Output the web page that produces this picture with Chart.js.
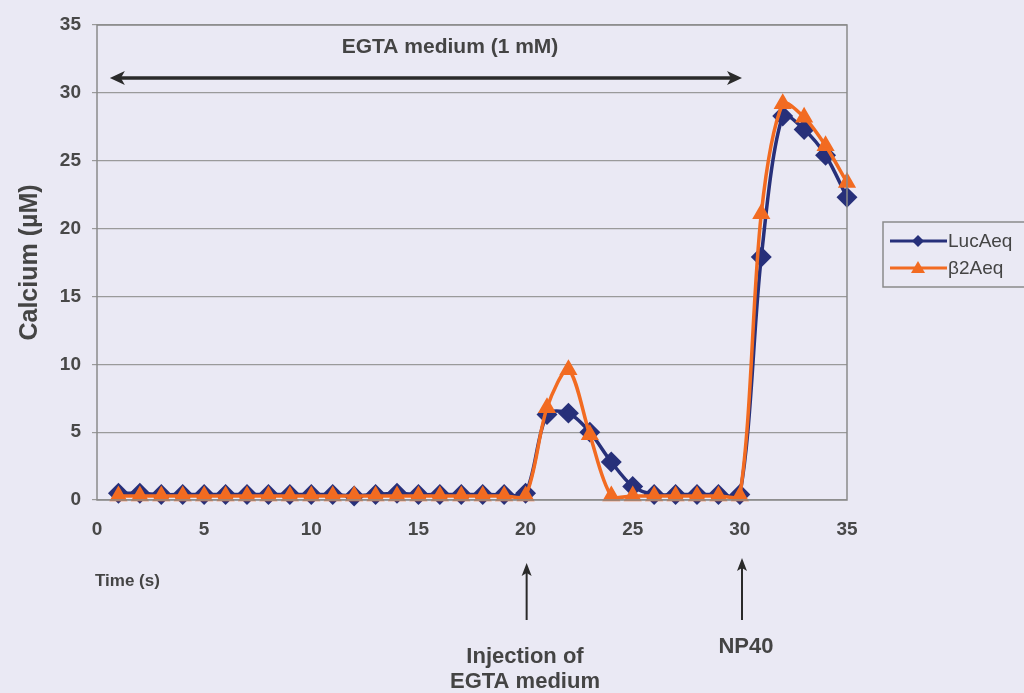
<!DOCTYPE html>
<html>
<head>
<meta charset="utf-8">
<script src="https://cdn.jsdelivr.net/npm/chart.js@4.4.0/dist/chart.umd.min.js"></script>
<style>
  html, body { margin: 0; padding: 0; background: #eae9f4; }
  #wrap { width: 1024px; height: 693px; position: relative; }
</style>
</head>
<body>
<div id="wrap"><canvas id="c"></canvas></div>
<script>
// time points (s)
const time = [1,2,3,4,5,6,7,8,9,10,11,12,13,14,15,16,17,18,19,20,21,22,23,24,25,26,27,28,29,30,31,32,33,34,35];
// calcium (µM)
const lucAeq = [0.5,0.5,0.4,0.4,0.4,0.4,0.4,0.4,0.4,0.4,0.4,0.3,0.4,0.5,0.4,0.4,0.4,0.4,0.4,0.5,
                6.3,6.4,5.0,2.8,1.0,0.4,0.4,0.4,0.4,0.4,17.9,28.3,27.3,25.4,22.3];
const b2Aeq = [0.3,0.3,0.3,0.3,0.3,0.3,0.3,0.3,0.3,0.3,0.3,0.3,0.3,0.3,0.3,0.3,0.3,0.3,0.3,0.3,
               6.8,9.6,4.8,0.3,0.3,0.3,0.3,0.3,0.3,0.3,21.1,29.2,28.2,26.1,23.4];
const yTicks = [0,5,10,15,20,25,30,35];
const xTicks = [0,5,10,15,20,25,30,35];

const BLUE = '#27307a';
const ORANGE = '#f26b21';
const GREY = '#484848';
const FONT = '"Liberation Sans", Arial, sans-serif';

const pts = arr => arr.map((v, i) => ({ x: time[i], y: v }));

// frame, arrows, annotation text and legend
const extras = {
  id: 'extras',
  afterDraw(chart) {
    const { ctx, chartArea: a, scales: { x, y } } = chart;
    ctx.save();
    ctx.strokeStyle = '#8a8a8a';
    ctx.lineWidth = 1.5;
    ctx.strokeRect(a.left, a.top, a.right - a.left, a.bottom - a.top);

    const arrowHead = (px, py, dir) => {
      ctx.beginPath();
      if (dir === 'left' || dir === 'right') {
        const s = dir === 'left' ? 1 : -1;
        ctx.moveTo(px, py);
        ctx.lineTo(px + s * 15, py - 7);
        ctx.lineTo(px + s * 11, py);
        ctx.lineTo(px + s * 15, py + 7);
      } else {
        ctx.moveTo(px, py);
        ctx.lineTo(px - 5, py + 13);
        ctx.lineTo(px, py + 10);
        ctx.lineTo(px + 5, py + 13);
      }
      ctx.closePath();
      ctx.fill();
    };

    // EGTA medium span
    ctx.strokeStyle = '#2a2a2a';
    ctx.fillStyle = '#2a2a2a';
    ctx.lineWidth = 3.5;
    const ay = y.getPixelForValue(31.1);
    const ax0 = x.getPixelForValue(0.6), ax1 = x.getPixelForValue(30.1);
    ctx.beginPath();
    ctx.moveTo(ax0 + 8, ay);
    ctx.lineTo(ax1 - 8, ay);
    ctx.stroke();
    arrowHead(ax0, ay, 'left');
    arrowHead(ax1, ay, 'right');

    // event arrows below the axis
    ctx.lineWidth = 2;
    [[20.05, 563], [30.1, 558]].forEach(([t, top]) => {
      const px = x.getPixelForValue(t);
      ctx.beginPath();
      ctx.moveTo(px, top + 8);
      ctx.lineTo(px, 620);
      ctx.stroke();
      arrowHead(px, top, 'up');
    });

    ctx.fillStyle = '#444';
    ctx.textAlign = 'center';
    ctx.textBaseline = 'middle';
    ctx.font = 'bold 21px ' + FONT;
    ctx.fillText('EGTA medium (1 mM)', 450, 47);
    ctx.font = 'bold 22px ' + FONT;
    ctx.fillText('Injection of', 525, 657);
    ctx.fillText('EGTA medium', 525, 682);
    ctx.fillText('NP40', 746, 647);
    ctx.textAlign = 'left';
    ctx.font = 'bold 17px ' + FONT;
    ctx.fillText('Time (s)', 95, 581);

    // legend box
    ctx.fillStyle = '#eae9f4';
    ctx.strokeStyle = '#8a8a8a';
    ctx.lineWidth = 1.5;
    ctx.fillRect(883, 222, 150, 65);
    ctx.strokeRect(883, 222, 150, 65);
    chart.data.datasets.forEach((ds, i) => {
      const ly = 241 + i * 27;
      ctx.strokeStyle = ds.borderColor;
      ctx.lineWidth = 3;
      ctx.beginPath();
      ctx.moveTo(890, ly);
      ctx.lineTo(947, ly);
      ctx.stroke();
      ctx.fillStyle = ds.borderColor;
      ctx.beginPath();
      if (ds.pointStyle === 'triangle') {
        ctx.moveTo(918, ly - 7);
        ctx.lineTo(925, ly + 5);
        ctx.lineTo(911, ly + 5);
      } else {
        ctx.moveTo(918, ly - 6);
        ctx.lineTo(924, ly);
        ctx.lineTo(918, ly + 6);
        ctx.lineTo(912, ly);
      }
      ctx.closePath();
      ctx.fill();
      ctx.fillStyle = '#444';
      ctx.font = '19px ' + FONT;
      ctx.textAlign = 'left';
      ctx.fillText(ds.label, 948, ly + 1);
    });
    ctx.restore();
  }
};

new Chart(document.getElementById('c'), {
  type: 'line',
  data: {
    datasets: [
      {
        label: 'LucAeq',
        data: pts(lucAeq),
        borderColor: BLUE,
        backgroundColor: BLUE,
        borderWidth: 3.5,
        pointStyle: 'rectRot',
        pointRadius: 8,
        tension: 0.3,
        order: 1
      },
      {
        label: 'β2Aeq',
        data: pts(b2Aeq),
        borderColor: ORANGE,
        backgroundColor: ORANGE,
        borderWidth: 3.5,
        pointStyle: 'triangle',
        pointRadius: 7,
        tension: 0.3,
        order: 0
      }
    ]
  },
  options: {
    responsive: true,
    maintainAspectRatio: false,
    animation: false,
    clip: false,
    layout: { padding: { left: 15, right: 177, top: 25, bottom: 153 } },
    plugins: { legend: { display: false }, tooltip: { enabled: false } },
    scales: {
      x: {
        type: 'linear',
        min: 0, max: 35,
        afterBuildTicks: s => { s.ticks = xTicks.map(v => ({ value: v })); },
        afterFit: s => { s.height = 40; },
        grid: { display: false, drawTicks: false },
        border: { display: false },
        ticks: { color: GREY, font: { family: FONT, size: 19, weight: 'bold' }, padding: 18 }
      },
      y: {
        min: 0, max: 35,
        afterBuildTicks: s => { s.ticks = yTicks.map(v => ({ value: v })); },
        afterFit: s => { s.width = 82; },
        grid: { color: '#9a9a9a', lineWidth: 1.2, tickLength: 5 },
        border: { display: false },
        ticks: { color: GREY, font: { family: FONT, size: 19, weight: 'bold' }, padding: 11 },
        title: {
          display: true,
          text: 'Calcium (µM)',
          color: '#444',
          font: { family: FONT, size: 25, weight: 'bold' },
          padding: 0
        }
      }
    }
  },
  plugins: [extras]
});
</script>
</body>
</html>
